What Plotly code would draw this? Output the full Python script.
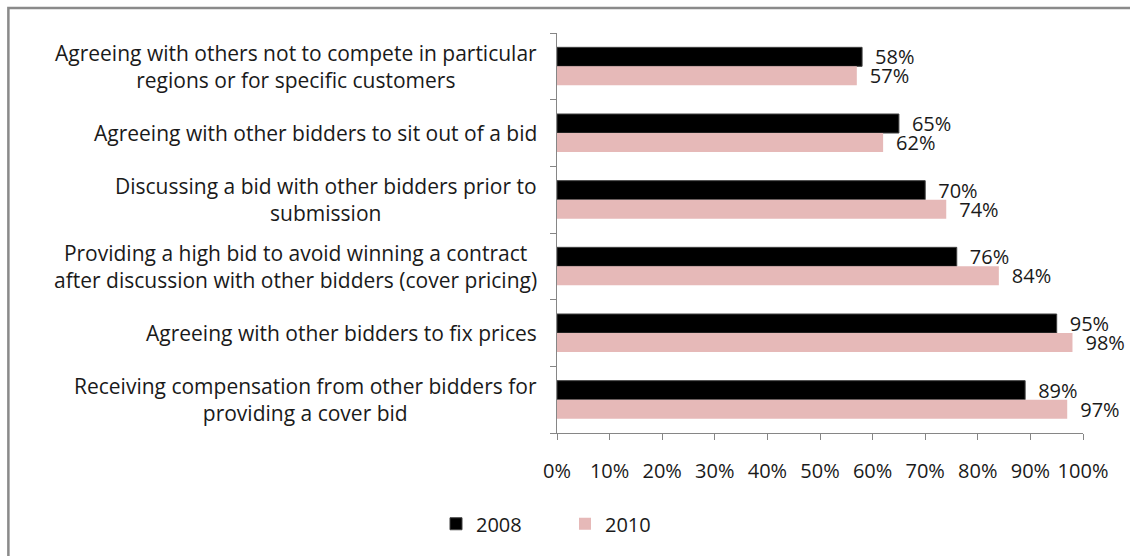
import plotly.graph_objects as go

categories = [
    "Agreeing with others not to compete in particular<br>regions or for specific customers",
    "Agreeing with other bidders to sit out of a bid",
    "Discussing a bid with other bidders prior to<br>submission",
    "Providing a high bid to avoid winning a contract<br>after discussion with other bidders (cover pricing)",
    "Agreeing with other bidders to fix prices",
    "Receiving compensation from other bidders for<br>providing a cover bid",
]
values_2008 = [58, 65, 70, 76, 95, 89]
values_2010 = [57, 62, 74, 84, 98, 97]
x_ticks = list(range(0, 101, 10))
x_tick_labels = [f"{v}%" for v in x_ticks]

FONT = "Open Sans"
TXT = "#1a1a1a"
keys = list(range(len(categories)))

fig = go.Figure()
fig.add_trace(go.Bar(
    name="2008", y=keys, x=values_2008, orientation="h",
    marker=dict(color="#000000", line=dict(color="#404040", width=1)),
    text=[f"\u2002{v}%" for v in values_2008], textposition="outside",
    constraintext="none", cliponaxis=False,
    textfont=dict(family=FONT, size=20, color=TXT),
))
fig.add_trace(go.Bar(
    name="2010", y=keys, x=values_2010, orientation="h",
    marker=dict(color="#E6B9B8", line=dict(width=0)),
    text=[f"\u2002{v}%" for v in values_2010], textposition="outside",
    constraintext="none", cliponaxis=False,
    textfont=dict(family=FONT, size=20, color=TXT),
))

for i, c in enumerate(categories):
    fig.add_annotation(
        x=0, xref="paper", y=i, yref="y", xanchor="right", yanchor="middle",
        xshift=-18, text=c, showarrow=False, align="center",
        font=dict(family=FONT, size=21, color=TXT),
    )

# chart frame (left/top edges visible)
fig.add_shape(type="rect", xref="paper", yref="paper",
              x0=-1.043, x1=2, y0=-1, y1=1.0625,
              line=dict(color="#8a8a8a", width=2.5), layer="below")

fig.update_layout(
    width=1130, height=556,
    margin=dict(l=557, r=47, t=33, b=123),
    paper_bgcolor="white", plot_bgcolor="white",
    barmode="group", bargap=0.43, bargroupgap=0,
    font=dict(family=FONT, size=20, color=TXT),
    showlegend=True,
    legend=dict(orientation="h", xref="container", yref="container",
                x=0.5, y=0.058, xanchor="center", yanchor="middle",
                font=dict(family=FONT, size=20, color=TXT),
                itemwidth=30, entrywidth=84, traceorder="normal"),
    xaxis=dict(range=[0, 100], tickvals=x_ticks, ticktext=x_tick_labels,
               ticks="outside", ticklen=6, tickcolor="#868686",
               showline=True, linecolor="#868686", linewidth=1,
               showgrid=False, zeroline=False, ticklabelstandoff=14,
               tickfont=dict(family=FONT, size=20, color=TXT)),
    yaxis=dict(range=[5.5, -0.5], tickvals=[k - 0.5 for k in keys] + [5.5],
               ticks="outside", ticklen=6, tickcolor="#868686",
               showticklabels=False, showline=True, linecolor="#868686",
               linewidth=1, showgrid=False, zeroline=False),
)

fig.write_html("out.html")
